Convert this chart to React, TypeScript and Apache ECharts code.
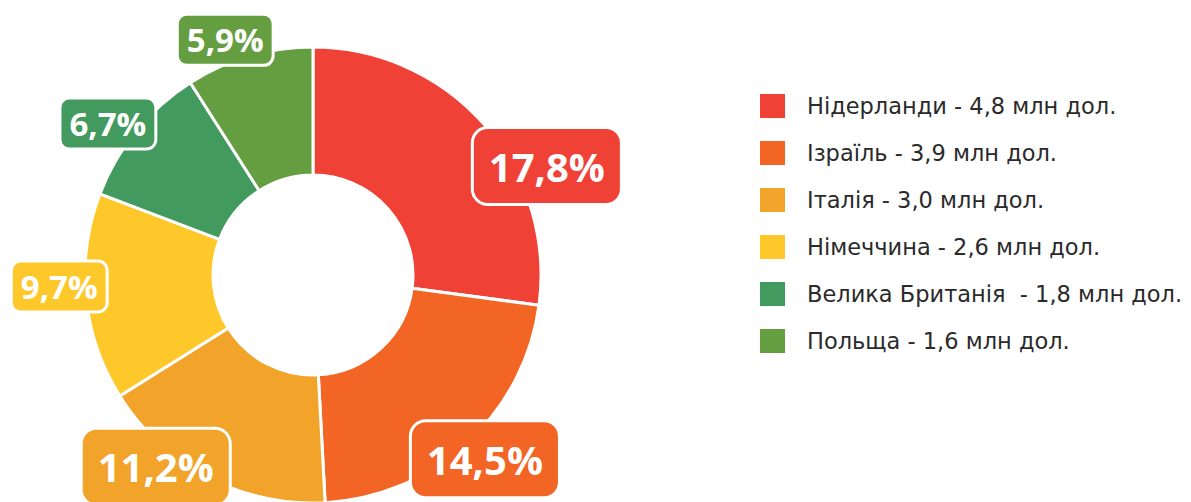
import React, { useEffect, useRef } from "react";
import * as echarts from "echarts";

const countries = ["Нідерланди", "Ізраїль", "Італія", "Німеччина", "Велика Британія ", "Польща"];
const exportsMln = [4.8, 3.9, 3.0, 2.6, 1.8, 1.6];
const sharePct = [17.8, 14.5, 11.2, 9.7, 6.7, 5.9];
const colors = ["#EF4136", "#F26524", "#F1A429", "#FFC82A", "#429A5E", "#649E41"];

// label placement tweaks (angle delta in degrees, distance from centre in px)
const labelAngleNudge = [-16.2, 0.3, -11.9, -3, 2.7, 4.2];
const labelDistance = [258, 252, 248, 254, 255, 251];
const bigLabel = [true, true, true, false, false, false];

const CX = 313;
const CY = 275;

const fmt = (v: number) => v.toFixed(1).replace(".", ",");

export default function App() {
  const ref = useRef<HTMLDivElement>(null);
  useEffect(() => {
    if (!ref.current) return;
    const chart = echarts.init(ref.current, undefined, { renderer: "svg" });
    const total = exportsMln.reduce((a, b) => a + b, 0);
    const midAngles: number[] = [];
    let cum = 0;
    exportsMln.forEach((v) => {
      midAngles.push(90 - ((cum + v / 2) / total) * 360);
      cum += v;
    });
    const data = countries.map((name, i) => ({
      name,
      value: exportsMln[i],
      itemStyle: { color: colors[i] },
      label: {
        backgroundColor: colors[i],
        fontSize: bigLabel[i] ? 40 : 33,
        lineHeight: bigLabel[i] ? 42 : 36,
        padding: bigLabel[i] ? [16, 15] : [6, 8],
        borderRadius: bigLabel[i] ? 14 : 8,
      },
    }));
    chart.setOption({
      animation: false,
      backgroundColor: "#ffffff",
      legend: {
        orient: "vertical",
        left: 758,
        top: 92,
        padding: 0,
        icon: "rect",
        itemWidth: 27,
        itemHeight: 26,
        itemGap: 19,
        selectedMode: false,
        data: countries,
        formatter: (name: string) => {
          const i = countries.indexOf(name);
          return `${name} - ${fmt(exportsMln[i])} млн дол.`;
        },
        textStyle: {
          fontFamily: "DejaVu Sans",
          fontSize: 22.5,
          lineHeight: 26,
          color: "#2a2a2a",
          padding: [0, 0, 0, 16],
        },
      },
      series: [
        {
          type: "pie",
          center: [CX, CY],
          radius: [100, 228],
          startAngle: 90,
          clockwise: true,
          avoidLabelOverlap: false,
          itemStyle: { borderColor: "#ffffff", borderWidth: 3 },
          label: {
            show: true,
            position: "outside",
            formatter: (p: any) => `${fmt(sharePct[p.dataIndex])}%`,
            color: "#ffffff",
            fontFamily: "Open Sans",
            fontWeight: "bold",
            borderColor: "#ffffff",
            borderWidth: 3,
          },
          labelLine: { show: false },
          labelLayout: (p: any) => {
            const i = p.dataIndex;
            const a = ((midAngles[i] + labelAngleNudge[i]) * Math.PI) / 180;
            return {
              x: CX + labelDistance[i] * Math.cos(a),
              y: CY - labelDistance[i] * Math.sin(a),
              align: "center",
              verticalAlign: "middle",
            };
          },
          emphasis: { disabled: true },
          data,
        },
      ],
    });
    return () => chart.dispose();
  }, []);
  return (
    <div
      ref={ref}
      style={{ position: "absolute", left: 0, top: 0, width: 1191, height: 502 }}
    />
  );
}
